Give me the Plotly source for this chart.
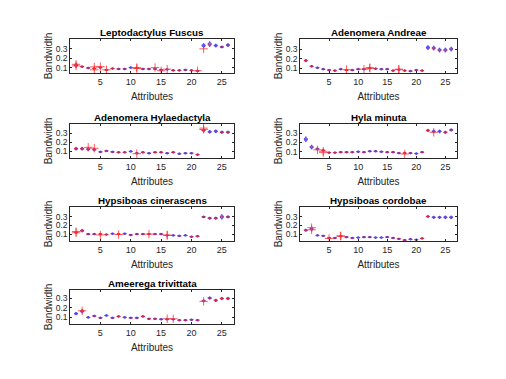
import plotly.graph_objects as go

attributes = list(range(1, 27))

titles = ["Leptodactylus Fuscus", "Adenomera Andreae", "Adenomera Hylaedactyla",
          "Hyla minuta", "Hypsiboas cinerascens", "Hypsiboas cordobae",
          "Ameerega trivittata"]

# medians
med_lepto = [0.125, 0.11, 0.095, 0.09, 0.10, 0.075, 0.09, 0.085, 0.085, 0.10, 0.095, 0.085, 0.085,
             0.085, 0.075, 0.08, 0.07, 0.07, 0.075, 0.07, 0.065, 0.335, 0.35, 0.335, 0.32, 0.34]
med_andreae = [0.18, 0.12, 0.105, 0.09, 0.08, 0.075, 0.09, 0.08, 0.08, 0.09, 0.09, 0.10, 0.095,
               0.09, 0.09, 0.075, 0.085, 0.075, 0.07, 0.08, 0.075, 0.315, 0.31, 0.29, 0.29, 0.30]
med_hylaed = [0.13, 0.13, 0.125, 0.12, 0.095, 0.105, 0.095, 0.09, 0.09, 0.10, 0.08, 0.09, 0.08,
              0.09, 0.09, 0.08, 0.09, 0.075, 0.08, 0.08, 0.065, 0.33, 0.315, 0.32, 0.31, 0.31]
med_hyla = [0.235, 0.15, 0.13, 0.115, 0.09, 0.09, 0.095, 0.095, 0.095, 0.10, 0.095, 0.105, 0.105,
            0.10, 0.095, 0.095, 0.085, 0.085, 0.085, 0.08, 0.095, 0.33, 0.32, 0.32, 0.31, 0.335]
med_ciner = [0.12, 0.14, 0.10, 0.10, 0.10, 0.095, 0.105, 0.10, 0.105, 0.09, 0.10, 0.10, 0.10,
             0.10, 0.10, 0.085, 0.085, 0.08, 0.085, 0.07, 0.075, 0.30, 0.285, 0.285, 0.30, 0.30]
med_cordo = [0.145, 0.16, 0.085, 0.08, 0.055, 0.055, 0.075, 0.065, 0.055, 0.06, 0.065, 0.065, 0.06,
             0.06, 0.065, 0.055, 0.045, 0.03, 0.04, 0.035, 0.05, 0.305, 0.295, 0.295, 0.295, 0.295]
med_ameer = [0.14, 0.165, 0.10, 0.115, 0.095, 0.12, 0.095, 0.11, 0.10, 0.095, 0.095, 0.11, 0.085,
             0.085, 0.08, 0.08, 0.08, 0.07, 0.07, 0.075, 0.07, 0.275, 0.305, 0.28, 0.30, 0.30]

# whisker half-range per attribute
spr_lepto = [0.02] + [0.008] * 20 + [0.02, 0.025, 0.015, 0.01, 0.015]
spr_andreae = [0.012] + [0.008] * 20 + [0.02, 0.02, 0.02, 0.02, 0.02]
spr_hylaed = [0.015, 0.015, 0.015, 0.015] + [0.008] * 17 + [0.015, 0.015, 0.015, 0.012, 0.012]
spr_hyla = [0.025, 0.02, 0.012] + [0.008] * 18 + [0.012, 0.015, 0.015, 0.012, 0.012]
spr_ciner = [0.01, 0.015] + [0.008] * 19 + [0.01, 0.012, 0.012, 0.025, 0.012]
spr_cordo = [0.012, 0.02] + [0.008] * 19 + [0.01, 0.012, 0.012, 0.015, 0.015]
spr_ameer = [0.012, 0.018] + [0.008] * 19 + [0.01, 0.012, 0.012, 0.012, 0.012]

# outliers (attribute, value)
out_lepto = [(1, 0.135), (1, 0.118), (4, 0.107), (4, 0.076), (5, 0.11), (6, 0.076), (11, 0.10),
             (11, 0.09), (14, 0.10), (15, 0.066), (16, 0.083), (21, 0.066), (22, 0.30)]
out_andreae = [(8, 0.085), (11, 0.09), (12, 0.10), (12, 0.105), (17, 0.085), (17, 0.09)]
out_hylaed = [(3, 0.145), (4, 0.135), (11, 0.075), (22, 0.355), (22, 0.34)]
out_hyla = [(3, 0.12), (4, 0.105), (4, 0.09), (18, 0.075), (23, 0.31)]
out_ciner = [(1, 0.13), (1, 0.115), (5, 0.09), (8, 0.095), (13, 0.10), (16, 0.085), (16, 0.09)]
out_cordo = [(2, 0.175), (2, 0.15), (5, 0.05), (7, 0.075), (7, 0.08)]
out_ameer = [(2, 0.17), (16, 0.085), (17, 0.085), (22, 0.27)]

y_ranges = [[0.042, 0.405], [0.05, 0.405], [0.028, 0.40], [0.032, 0.40],
            [0.02, 0.415], [0.02, 0.415], [0.03, 0.39]]

panels = [
    (med_lepto, spr_lepto, out_lepto),
    (med_andreae, spr_andreae, out_andreae),
    (med_hylaed, spr_hylaed, out_hylaed),
    (med_hyla, spr_hyla, out_hyla),
    (med_ciner, spr_ciner, out_ciner),
    (med_cordo, spr_cordo, out_cordo),
    (med_ameer, spr_ameer, out_ameer),
]

W, H = 506, 379
OFF = 8  # page body margin the browser adds around the plot div
col_px = [(70, 234), (300, 457)]
row_px = [(39, 73), (124, 158), (207, 241), (290, 324)]

FONT = "Liberation Sans, Arial, Helvetica, sans-serif"
INK = "#262626"

fig = go.Figure()
layout = {}
annotations = []

for i, (med, spr, outs) in enumerate(panels):
    r, c = divmod(i, 2)
    n = "" if i == 0 else str(i + 1)
    xa, ya = "x" + n, "y" + n
    x0, x1 = [p - OFF for p in col_px[c]]
    y0, y1 = [p - OFF for p in row_px[r]]

    q1 = [m - s / 2 for m, s in zip(med, spr)]
    q3 = [m + s / 2 for m, s in zip(med, spr)]
    lo = [m - s for m, s in zip(med, spr)]
    hi = [m + s for m, s in zip(med, spr)]

    fig.add_trace(go.Box(
        x=attributes, q1=q1, median=med, q3=q3, lowerfence=lo, upperfence=hi,
        boxpoints=False, width=0.45, whiskerwidth=0.5,
        line=dict(color="#3030ff", width=0.8), fillcolor="rgba(0,0,0,0)",
        xaxis=xa, yaxis=ya, showlegend=False, hoverinfo="skip"
    ))
    fig.add_trace(go.Scatter(
        x=attributes, y=med, mode="markers",
        marker=dict(symbol="line-ew", size=3, line=dict(color="#ff2020", width=0.8)),
        xaxis=xa, yaxis=ya, showlegend=False, hoverinfo="skip"
    ))
    fig.add_trace(go.Scatter(
        x=[o[0] for o in outs], y=[o[1] for o in outs], mode="markers",
        marker=dict(symbol="cross-thin", size=6, line=dict(color="#ff3030", width=0.8)),
        xaxis=xa, yaxis=ya, showlegend=False, hoverinfo="skip"
    ))

    layout["xaxis" + n] = dict(
        domain=[x0 / W, x1 / W], anchor=ya, range=[0, 27],
        tickvals=[5, 10, 15, 20, 25], ticks="inside", ticklen=2, tickcolor=INK,
        showline=True, linecolor=INK, linewidth=0.6, mirror="ticks",
        showgrid=False, zeroline=False,
        tickfont=dict(family=FONT, size=9, color=INK),
        title=dict(text="Attributes", font=dict(family=FONT, size=10, color=INK), standoff=7),
    )
    layout["yaxis" + n] = dict(
        domain=[1 - y1 / H, 1 - y0 / H], anchor=xa, range=y_ranges[i],
        tickvals=[0.1, 0.2, 0.3], ticktext=["0.1", "0.2", "0.3"],
        ticks="inside", ticklen=2, tickcolor=INK,
        showline=True, linecolor=INK, linewidth=0.6, mirror="ticks",
        showgrid=False, zeroline=False,
        tickfont=dict(family=FONT, size=8.5, color=INK),
        title=dict(text="Bandwidth", font=dict(family=FONT, size=10, color=INK), standoff=1),
    )
    annotations.append(dict(
        text="<b>" + titles[i] + "</b>", xref="paper", yref="paper",
        x=(x0 + x1) / 2 / W, y=1 - (y0 + 1) / H, xanchor="center", yanchor="bottom",
        showarrow=False, font=dict(family=FONT, size=9.8, color="#000000"),
    ))

fig.update_layout(
    width=W, height=H, margin=dict(l=0, r=0, t=0, b=0),
    paper_bgcolor="white", plot_bgcolor="white",
    annotations=annotations, **layout
)

fig.write_html("out.html")
